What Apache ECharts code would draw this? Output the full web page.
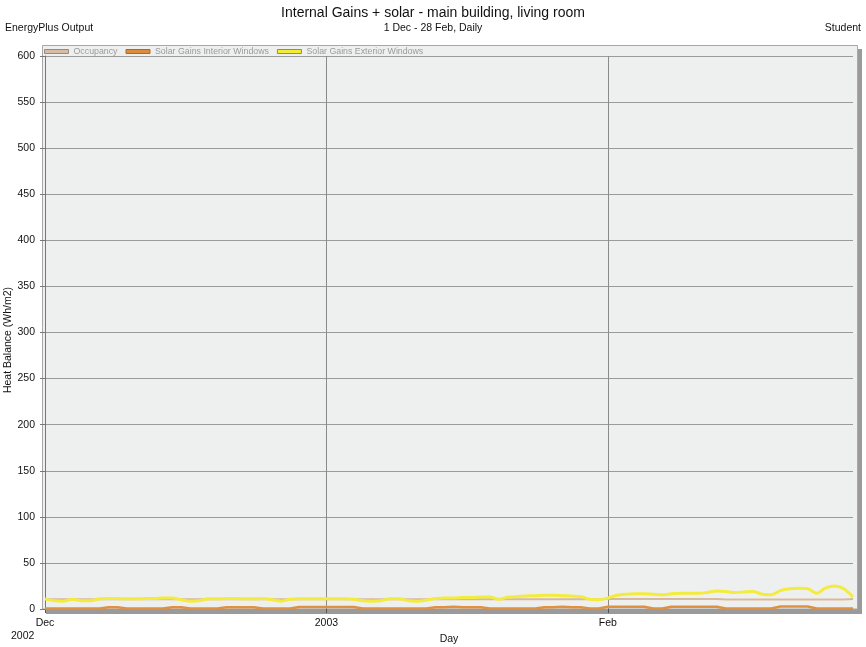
<!DOCTYPE html>
<html>
<head>
<meta charset="utf-8">
<script src="https://cdn.jsdelivr.net/npm/echarts@6/dist/echarts.min.js"></script>
<style>html,body{margin:0;padding:0;background:#fff}#c{width:866px;height:647px}</style>
</head>
<body>
<div id="c"></div>
<script>
// 1 Dec 2002 - 28 Feb 2003, daily (90 days)
const dayCount = 90;
const tickIndices = [0, 31, 62];
const tickLabels = ['Dec', '2003', 'Feb'];
const seriesNames = ['Occupancy', 'Solar Gains Interior Windows', 'Solar Gains Exterior Windows'];
const yAxisTitle = 'Heat Balance (Wh/m2)';

const occupancy = [
  10.5,10.5,10.5,10.5,10.5,10.5,10.5,10.5,10.5,10.5,10.5,10.5,10.5,10.5,10.5,10.5,10.5,10.5,10.5,10.5,10.5,10.5,10.5,10.5,10.5,10.5,10.5,10.5,10.5,10.5,10.5,
  10.5,10.5,10.5,10.5,10.5,10.5,10.5,10.5,10.5,10.5,10.5,10.5,10.5,10.5,10.5,10.5,10.5,10.5,10.5,10.5,10.5,10.5,10.5,10.5,10.5,10.5,10.5,10.5,10.5,10.5,10.5,
  10.8,10.8,10.8,10.8,10.8,10.8,10.8,10.8,10.8,10.8,10.8,10.8,10.8,10.2,10.2,10.2,10.2,10.2,10.2,10.2,10.2,10.2,10.2,10.2,10.2,10.2,10.2,10.8
];
const solarInterior = [
  0.5,0.5,0.5,0.5,0.5,0.5,0.5,1.8,1.8,0.5,0.5,0.5,0.5,0.5,1.8,1.8,0.5,0.5,0.5,0.5,1.8,1.8,1.8,1.8,0.5,0.5,0.5,0.5,2.2,2.2,2.2,
  2.2,2.2,2.2,2.2,0.5,0.5,0.5,0.5,0.5,0.5,0.5,0.5,1.8,1.8,2.5,1.8,1.8,1.8,0.5,0.5,0.5,0.5,0.5,0.5,1.8,1.8,2.5,1.8,1.8,0.5,0.5,
  2.5,2.5,2.5,2.5,2.5,0.5,0.5,2.5,2.5,2.5,2.5,2.5,2.5,0.5,0.5,0.5,0.5,0.5,0.5,2.8,2.8,2.8,2.8,0.5,0.5,0.5,0.5,0.5
];
const solarExterior = [
  11,9,8.5,10.5,9,9,11,11.5,11.5,11,11,11.5,11.5,12,12,10,8.5,9,11,11,11.5,11.5,11,11,11.5,10,8.5,10.5,11,11,11,
  11,11,11,10.5,9,8.5,9,11,11,9,8.5,9.5,11.5,12,12,12.5,12.5,13,13,10.5,13,13.5,14,14.5,15,15,14.5,14,13.5,10.5,10,
  12,15,16,16.5,16.5,16,15.5,16.5,17,17,17,18,19.5,19,18,18.5,19,16,15.5,20,22,22.5,22,17,23,25,22,13
];

const days = [];
for (let i = 0; i < dayCount; i++) days.push(String(i));
const isTick = (i) => tickIndices.indexOf(i) >= 0;

const FONT = 'Liberation Sans, Arial, sans-serif';
const chart = echarts.init(document.getElementById('c'), null, {renderer: 'canvas'});
chart.setOption({
  animation: false,
  backgroundColor: '#ffffff',
  textStyle: {fontFamily: FONT},
  title: [
    {text: 'Internal Gains + solar - main building, living room', left: 'center', top: 1,
     textStyle: {fontSize: 14, fontWeight: 'normal', color: '#111', fontFamily: FONT}},
    {text: 'EnergyPlus Output', left: 0, top: 18, textStyle: {fontSize: 10.5, fontWeight: 'normal', color: '#111', fontFamily: FONT}},
    {text: '1 Dec - 28 Feb, Daily', left: 'center', top: 18, textStyle: {fontSize: 10.5, fontWeight: 'normal', color: '#111', fontFamily: FONT}},
    {text: 'Student', right: 0, top: 18, textStyle: {fontSize: 10.5, fontWeight: 'normal', color: '#111', fontFamily: FONT}}
  ],
  graphic: [
    {type: 'rect', z: -10, shape: {x: 46, y: 49, width: 816, height: 565}, style: {fill: '#9a9a9a'}},
    {type: 'rect', z: -9, shape: {x: 42.5, y: 45.5, width: 815, height: 563.5}, style: {fill: '#eef0ef', stroke: '#a8a8a8', lineWidth: 1}},
    {type: 'text', left: 11, top: 631, style: {text: '2002', fontSize: 10.5, fill: '#111', fontFamily: FONT}},
    {type: 'text', x: 8, y: 340, rotation: Math.PI / 2,
     style: {text: yAxisTitle, fontSize: 10.5, fill: '#111', fontFamily: FONT, align: 'center', verticalAlign: 'middle'}}
  ],
  legend: {
    left: 44, top: 47, itemWidth: 24, itemHeight: 4, itemGap: 8, icon: 'rect', padding: 0,
    textStyle: {fontSize: 8.8, color: '#9a9a9a', fontFamily: FONT},
    data: [
      {name: seriesNames[0], itemStyle: {color: '#d6bda6', borderColor: '#9a8a7a', borderWidth: 1}},
      {name: seriesNames[1], itemStyle: {color: '#dd8c3c', borderColor: '#a66a2a', borderWidth: 1}},
      {name: seriesNames[2], itemStyle: {color: '#f2ec3a', borderColor: '#9a9420', borderWidth: 1}}
    ]
  },
  grid: {left: 45, top: 56, right: 13, bottom: 38, containLabel: false, outerBoundsMode: 'none'},
  xAxis: {
    type: 'category', data: days, boundaryGap: false,
    name: 'Day', nameLocation: 'middle', nameGap: 24,
    nameTextStyle: {fontSize: 10.5, color: '#111', fontFamily: FONT},
    axisLine: {show: false},
    axisTick: {show: true, length: 4, interval: (i) => isTick(i), lineStyle: {color: '#555'}},
    axisLabel: {fontSize: 10.5, color: '#111', margin: 9, interval: (i) => isTick(i),
      formatter: (v, i) => tickLabels[tickIndices.indexOf(Number(v))] || ''},
    splitLine: {show: true, interval: (i) => isTick(i) && i > 0, lineStyle: {color: '#8a8a8a', width: 1}}
  },
  yAxis: {
    type: 'value', min: 0, max: 600, interval: 50,
    axisLine: {show: true, lineStyle: {color: '#777', width: 1}},
    axisTick: {show: true, length: 5, lineStyle: {color: '#777'}},
    axisLabel: {fontSize: 10.5, color: '#111', margin: 10},
    splitLine: {show: true, lineStyle: {color: '#9a9a9a', width: 1}}
  },
  series: [
    {name: seriesNames[0], type: 'line', data: occupancy, symbol: 'none', z: 2,
     lineStyle: {color: '#d9b99c', width: 2}, itemStyle: {color: '#d6bda6'}},
    {name: seriesNames[1], type: 'line', data: solarInterior, symbol: 'none', z: 3,
     lineStyle: {color: '#df9040', width: 2.5}, itemStyle: {color: '#dd8c3c'}},
    {name: seriesNames[2], type: 'line', data: solarExterior, symbol: 'none', z: 4, smooth: 0.3,
     lineStyle: {color: '#f3ec3c', width: 3}, itemStyle: {color: '#f2ec3a'}}
  ]
});
</script>
</body>
</html>
